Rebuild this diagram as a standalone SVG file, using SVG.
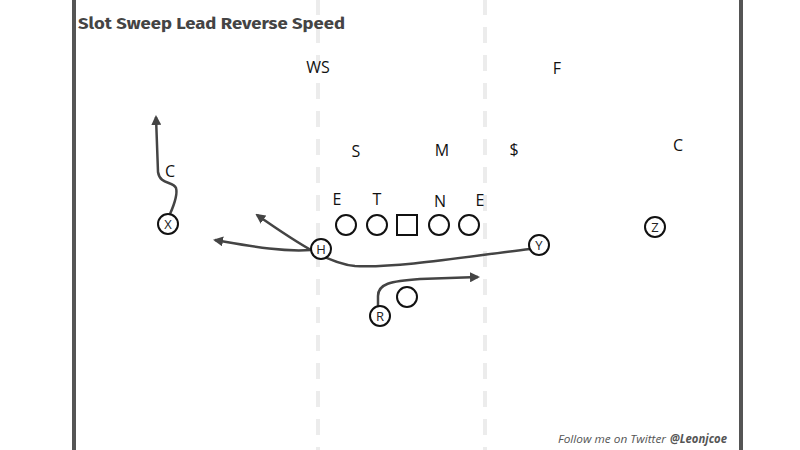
<svg xmlns="http://www.w3.org/2000/svg" width="800" height="450" viewBox="0 0 800 450">
<style>
.side{fill:#555;}
.hash{stroke:#ececec;stroke-width:4;stroke-dasharray:16 12;}
.lbl{font-family:"Open Sans","Noto Sans",sans-serif;font-size:16px;fill:#111;text-anchor:middle;}
.pl{fill:#fff;stroke:#111;stroke-width:2;}
.pt{font-family:"Open Sans","Noto Sans",sans-serif;font-size:13px;fill:#222;text-anchor:middle;}
.route{fill:none;stroke:#444;stroke-width:2.5;marker-end:url(#ah);}
.title{font-family:"Fira Sans","Open Sans","Noto Sans",sans-serif;font-size:17px;font-weight:700;fill:#444;}
.foot{font-family:"Open Sans","Noto Sans",sans-serif;font-size:11.5px;font-style:italic;fill:#555;}
</style>
<defs>
<marker id="ah" viewBox="0 0 10 10" refX="8" refY="5" markerWidth="4" markerHeight="4" orient="auto" markerUnits="strokeWidth">
<path d="M0,0 L10,5 L0,10 Z" fill="#444"/>
</marker>
</defs>
<rect width="800" height="450" fill="#fff"/>
<g id="field">
<rect class="side" x="72" y="0" width="4" height="450"/>
<rect class="side" x="739" y="0" width="4" height="450"/>
<line class="hash" x1="318" y1="-1" x2="318" y2="450"/>
<line class="hash" x1="485" y1="-1" x2="485" y2="450"/>
</g>
<text class="title" x="78" y="29" textLength="267" lengthAdjust="spacingAndGlyphs">Slot Sweep Lead Reverse Speed</text>
<g id="connectors">
<path class="route" d="M170,214 C174,205 178,195 176,188 C173,181 160,185 158,172 L156,117"/>
<path class="route" d="M311,250 C280,252 250,246 215,240"/>
<path class="route" d="M530,249 C470,256 400,268 355,266 C330,264 300,245 257,215"/>
<path class="route" d="M378,306 L378,296 C378,284 390,281 420,279 L478,277"/>
</g>
<g id="defense">
<g id="d-ws"><text class="lbl" x="318" y="73">WS</text></g>
<g id="d-f"><text class="lbl" x="557" y="74">F</text></g>
<g id="d-s"><text class="lbl" x="356" y="157">S</text></g>
<g id="d-m"><text class="lbl" x="442" y="156">M</text></g>
<g id="d-dollar"><text class="lbl" x="514" y="155">$</text></g>
<g id="d-c2"><text class="lbl" x="678" y="151">C</text></g>
<g id="d-c1"><text class="lbl" x="170" y="177">C</text></g>
<g id="d-e1"><text class="lbl" x="337" y="205">E</text></g>
<g id="d-t"><text class="lbl" x="377" y="205">T</text></g>
<g id="d-n"><text class="lbl" x="440" y="207">N</text></g>
<g id="d-e2"><text class="lbl" x="480" y="206">E</text></g>
</g>
<g id="offense">
<g id="o-lt"><circle class="pl" cx="346" cy="225" r="10"/></g>
<g id="o-lg"><circle class="pl" cx="377" cy="225" r="10"/></g>
<g id="o-c"><rect class="pl" x="397" y="215" width="20" height="20"/></g>
<g id="o-rg"><circle class="pl" cx="439" cy="225" r="10"/></g>
<g id="o-rt"><circle class="pl" cx="469" cy="225" r="10"/></g>
<g id="o-qb"><circle class="pl" cx="407" cy="297" r="10"/></g>
<g id="o-x"><circle class="pl" cx="168" cy="224" r="10"/><text class="pt" x="168" y="228.5">X</text></g>
<g id="o-h"><circle class="pl" cx="321" cy="249" r="10"/><text class="pt" x="321" y="253.5">H</text></g>
<g id="o-y"><circle class="pl" cx="539" cy="245" r="10"/><text class="pt" x="539" y="249.5">Y</text></g>
<g id="o-z"><circle class="pl" cx="655" cy="227" r="10"/><text class="pt" x="655" y="231.5">Z</text></g>
<g id="o-r"><circle class="pl" cx="380" cy="316" r="10"/><text class="pt" x="380" y="320.5">R</text></g>
</g>
<text class="foot" x="558" y="443" textLength="108" lengthAdjust="spacingAndGlyphs">Follow me on Twitter</text>
<text class="foot" x="670" y="443" textLength="57" lengthAdjust="spacingAndGlyphs" font-weight="700" fill="#333">@Leonjcoe</text>
</svg>
